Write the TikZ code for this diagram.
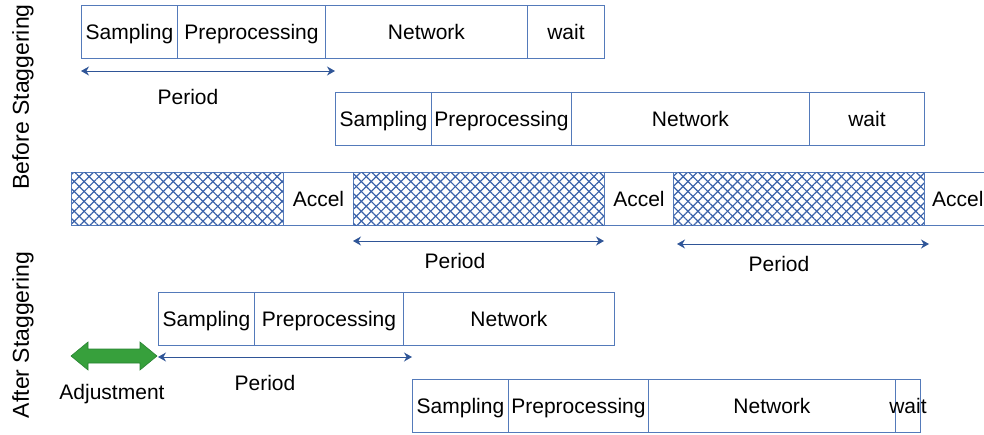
\documentclass[tikz,border=0pt]{standalone}
\usepackage{fontspec}
\setmainfont{Liberation Sans}
\usetikzlibrary{arrows.meta,patterns.meta}
\definecolor{boxblue}{RGB}{84,122,186}
\definecolor{arrblue}{RGB}{47,85,151}
\definecolor{hatchblue}{RGB}{58,98,170}
\definecolor{adjgreen}{RGB}{55,160,60}
\definecolor{adjedge}{RGB}{40,130,50}
\begin{document}
\begin{tikzpicture}[x=1pt,y=-1pt,
  every node/.style={font=\fontsize{21}{24}\selectfont, text=black},
  box/.style={draw=boxblue, line width=0.9pt, rectangle, inner sep=0pt, anchor=north west,
     minimum height=53pt, text height=15pt, text depth=0pt},
  hatch/.style={box, pattern={Lines[angle=45,distance=7pt,line width=1.2pt]}, pattern color=hatchblue,
     postaction={pattern={Lines[angle=-45,distance=7pt,line width=1.2pt]}, pattern color=hatchblue}},
  per/.style={draw=arrblue, line width=1pt, {Stealth[length=8pt,width=9pt]}-{Stealth[length=8pt,width=9pt]}},
  side/.style={rotate=90, font=\fontsize{23}{26}\selectfont},
  lbl/.style={}
]
\useasboundingbox (0,0) rectangle (984,434);
% Row 1
\node[box, minimum width=96pt]  (s1) at (81,5) {Sampling};
\node[box, minimum width=148pt] (p1) at (177,5) {Preprocessing};
\node[box, minimum width=202pt] (n1) at (325,5) {Network};
\node[box, minimum width=77pt]  (w1) at (527,5) {wait};
\coordinate (r1a) at (81,71);
\coordinate (r1b) at (335,71);
\draw[per] (r1a) -- (r1b);
\node[lbl] (t1) at (188,97) {Period};
% Row 2
\node[box, minimum width=96pt]  (s2) at (335,92) {Sampling};
\node[box, minimum width=140pt] (p2) at (431,92) {Preprocessing};
\node[box, minimum width=238pt] (n2) at (571,92) {Network};
\node[box, minimum width=115pt] (w2) at (809,92) {wait};
% Row 3 (accelerator)
\node[hatch, minimum width=212pt] (h1) at (71,172) {};
\node[box, minimum width=70pt]  (a1) at (283,172) {Accel};
\node[hatch, minimum width=251pt] (h2) at (353,172) {};
\node[box, minimum width=69pt]  (a2) at (604,172) {Accel};
\node[hatch, minimum width=251pt] (h3) at (673,172) {};
\node[box, minimum width=80pt]  (a3) at (924,172) {};
\node[anchor=west, inner sep=0pt, text height=15pt, text depth=0pt] (a3t) at (932,198.5) {Accel};
\coordinate (r3a) at (353,241);
\coordinate (r3b) at (604,241);
\draw[per] (r3a) -- (r3b);
\node[lbl] (t3) at (455,261) {Period};
\coordinate (r3c) at (677,244);
\coordinate (r3d) at (929,244);
\draw[per] (r3c) -- (r3d);
\node[lbl] (t3b) at (779,264) {Period};
% Row 4
\node[box, minimum width=96pt]  (s4) at (158,292) {Sampling};
\node[box, minimum width=149pt] (p4) at (254,292) {Preprocessing};
\node[box, minimum width=211pt] (n4) at (403,292) {Network};
\coordinate (r4a) at (158,357);
\coordinate (r4b) at (412,357);
\draw[per] (r4a) -- (r4b);
\node[lbl] (t4) at (265,383) {Period};
% Adjustment arrow
\draw[fill=adjgreen, draw=adjedge, line width=0.6pt]
  (71,356) -- (88,342) -- (88,349) -- (140,349) -- (140,342) -- (157,356)
  -- (140,370) -- (140,363) -- (88,363) -- (88,370) -- cycle;
\node[lbl] (adj) at (112,394) {Adjustment};
% Row 5
\node[box, minimum width=96pt]  (s5) at (412,379) {Sampling};
\node[box, minimum width=140pt] (p5) at (508,379) {Preprocessing};
\node[box, minimum width=247pt] (n5) at (648,379) {Network};
\node[box, minimum width=25pt]  (w5) at (895,379) {};
\node[text height=15pt, text depth=0pt, inner sep=0pt] (w5t) at (w5.center) {wait};
% Side labels
\node[side] (before) at (23,97) {Before Staggering};
\node[side] (after) at (23,335) {After Staggering};
\end{tikzpicture}
\end{document}
